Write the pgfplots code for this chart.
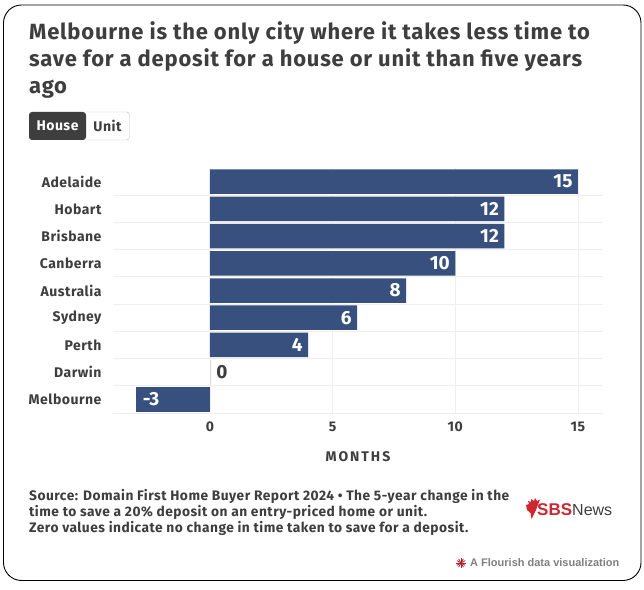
\documentclass[border=0pt]{standalone}
\usepackage{pgfplots}
\pgfplotsset{compat=1.18}
\usepackage{fontspec}
\setmainfont{Fira Sans}
\newfontfamily\logofont{Liberation Sans}
\newfontfamily\widefont[LetterSpace=3.5]{Fira Sans}
\newfontfamily\capsfont[LetterSpace=14]{Fira Sans}
\definecolor{barblue}{RGB}{55,80,126}
\definecolor{ink}{RGB}{62,62,62}
\definecolor{gridc}{RGB}{238,238,238}
\definecolor{sbsred}{RGB}{205,40,50}
\pgfplotstableread{
y val
0 15
1 12
2 12
3 10
4 8
5 6
6 4
}\positive
\pgfplotstableread{
y val
7 0
}\zero
\pgfplotstableread{
y val
8 -3
}\negative
\begin{document}
\begin{tikzpicture}[x=1pt,y=1pt]
  % full page in reference pixels, y measured up from the bottom
  \fill[white] (0,0) rectangle (644,589);
  \draw[black,line width=0.9pt,rounded corners=18pt] (3.5,8.5) rectangle (641,584);
  \begin{axis}[
    at={(113pt,176pt)},anchor=south west,
    width=490pt,height=245pt,
    scale only axis,
    xmin=-3.95,xmax=16.02,
    ymin=-0.5,ymax=8.5,
    y dir=reverse,
    axis line style={draw=none},
    xtick={0,5,10,15},
    ytick={0,...,8},
    yticklabels={Adelaide,Hobart,Brisbane,Canberra,Australia,Sydney,Perth,Darwin,Melbourne},
    minor ytick={0.5,1.5,...,8.5},
    xmajorgrids,yminorgrids,
    major grid style={gridc,line width=0.8pt},
    minor grid style={gridc,line width=0.8pt},
    tick style={draw=none},
    minor tick length=0pt,
    major tick length=0pt,
    ticklabel style={font=\widefont\fontsize{14}{16}\selectfont\bfseries,text=ink},
    /pgf/number format/assume math mode=true,
    xticklabel style={yshift=-5pt},
    yticklabel style={xshift=-8pt},
    xlabel={MONTHS},
    xlabel style={font=\capsfont\fontsize{14}{16}\selectfont\bfseries,text=ink,yshift=-13pt},
    xbar,
    bar width=24.5pt,
    every axis plot/.append style={bar shift=0pt,fill=barblue,draw=none},
    clip=false,
    nodes near coords,
    nodes near coords style={font=\fontsize{19}{22}\selectfont\bfseries},
  ]
    \addplot[every node near coord/.append style={anchor=east,text=white,xshift=-2pt}] table[x=val,y=y] {\positive};
    \addplot[every node near coord/.append style={anchor=west,text=ink,xshift=3pt}] table[x=val,y=y] {\zero};
    \addplot[every node near coord/.append style={anchor=west,text=white,xshift=3pt}] table[x=val,y=y] {\negative};
  \end{axis}
  % title
  \node[anchor=north west,align=left,font=\widefont\fontsize{22}{27}\selectfont\bfseries,text=ink,inner sep=0pt]
    at (29,568) {Melbourne is the only city where it takes less time to\\save for a deposit for a house or unit than five years\\ago};
  % House / Unit buttons
  \fill[ink,rounded corners=3pt] (29,449) rectangle (86,477);
  \draw[gridc!80!black,rounded corners=3pt] (86,449) -- (129.5,449) -- (129.5,477) -- (86,477);
  \node[font=\widefont\fontsize{14}{16}\selectfont\bfseries,text=white] at (57.5,463) {House};
  \node[font=\widefont\fontsize{14}{16}\selectfont\bfseries,text=ink] at (107.5,463) {Unit};
  % footer
  \node[anchor=north west,align=left,font=\widefont\fontsize{13.75}{16}\selectfont\bfseries,text=ink,inner sep=0pt]
    at (29,100) {Source: Domain First Home Buyer Report 2024 • The 5-year change in the\\time to save a 20\% deposit on an entry-priced home or unit.\\Zero values indicate no change in time taken to save for a deposit.};
  % SBS News logo
  \fill[sbsred] (526,84) -- (529,85) -- (528,88) -- (531,87) -- (531,90) -- (534,88) -- (535,91) -- (537,88) -- (540,89.5) -- (536,79) -- (531.5,70) -- (530.5,76) -- (527,79) -- cycle;
  \node[anchor=west,inner sep=0pt,font=\logofont\fontsize{17}{18}\selectfont\bfseries,text=sbsred] at (537,79) {SBS};
  \node[anchor=west,inner sep=0pt,font=\logofont\fontsize{16}{18}\selectfont,text=ink] at (572,79) {News};
  % Flourish credit
  \foreach \a in {0,30,...,330} \draw[sbsred!85!black,line width=0.8pt] (461,26) -- ++(\a:4.8);
  \node[anchor=west,inner sep=0pt,font=\logofont\fontsize{11}{13}\selectfont\bfseries,text=black!50] at (470,26) {A Flourish data visualization};
\end{tikzpicture}
\end{document}
